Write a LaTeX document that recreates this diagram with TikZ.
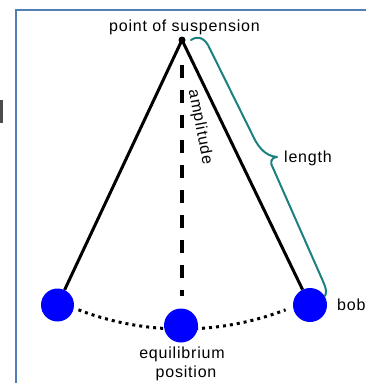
\documentclass[tikz,border=0pt]{standalone}
\usepackage{fontspec}
\setmainfont{Liberation Sans}[LetterSpace=5.0]
\definecolor{framec}{RGB}{79,127,181}
\definecolor{bracec}{RGB}{28,128,128}
\definecolor{bobc}{RGB}{0,0,255}
\begin{document}
\begin{tikzpicture}[x=1pt,y=-1pt,
  lbl/.style={font=\fontsize{16}{19}\selectfont, inner sep=0pt},
  bobnode/.style={circle, fill=bobc, inner sep=0pt, minimum size=34pt},
  stringline/.style={line width=3pt, black},
  dashline/.style={line width=4pt, black, dash pattern=on 13pt off 12pt},
  dotline/.style={line width=3pt, black, dash pattern=on 3pt off 4pt},
  braceline/.style={line width=2pt, bracec, line cap=round, line join=round},
  framel/.style={line width=2.7pt, framec}]
\useasboundingbox (0,0) rectangle (366,383);
% frame
\coordinate (fbl) at (16,383);
\coordinate (ftl) at (16,10);
\coordinate (ftr) at (366,10);
\draw[framel] (fbl) -- (ftl) -- (ftr);
\fill[black!70] (0,100) rectangle (2.5,123);
% suspension point
\node[circle, fill=black, inner sep=0pt, minimum size=7pt] (sp) at (182,40) {};
% dotted arc
\draw[dotline] ([shift={(111:289)}]sp.center) arc[start angle=111, end angle=69, radius=289];
% bobs
\node[bobnode, minimum size=33pt] (lb) at (57.5,305) {};
\node[bobnode] (mb) at (181,325.5) {};
\node[bobnode] (rb) at (310,305) {};
% strings
\draw[stringline] (sp.center) -- (lb);
\draw[stringline] (sp.center) -- (rb);
% dashed vertical
\coordinate (dtop) at (182,65);
\coordinate (dbot) at (182,296);
\draw[dashline] (dtop) -- (dbot);
% brace
\coordinate (bt) at (191,40);
\coordinate (btip) at (277,157);
\coordinate (bb) at (325,296);
\draw[braceline] (bt) .. controls (197,36) and (203,37) .. (208,45) -- (252,134)
  .. controls (257,145) and (264,156) .. (btip)
  .. controls (270,158) and (270,163) .. (273,168) -- (322,279)
  .. controls (326,288) and (327,292) .. (bb);
% labels
\node[lbl, anchor=base] (tsp) at (184.5,31) {point of suspension};
\node[lbl, rotate=-79] (tamp) at (200,127) {amplitude};
\node[lbl, anchor=base west] (tlen) at (284,162) {length};
\node[lbl, anchor=base west] (tbob) at (337,310) {bob};
\node[lbl, anchor=base] (teq) at (182,358) {equilibrium};
\node[lbl, anchor=base] (tpos) at (186,377) {position};
\end{tikzpicture}
\end{document}
